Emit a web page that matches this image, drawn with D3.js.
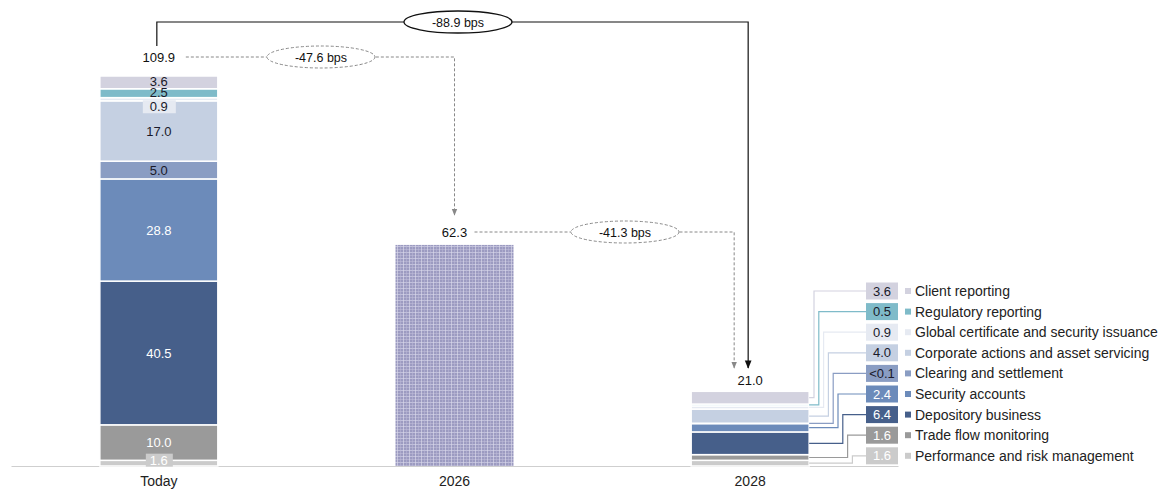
<!DOCTYPE html>
<html><head><meta charset="utf-8">
<script src="https://cdn.jsdelivr.net/npm/d3@7"></script>
<style>
body{margin:0;background:#fff;}
svg{display:block;font-family:"Liberation Sans",Arial,sans-serif;}
</style></head>
<body><svg id="c" width="1160" height="490"></svg>
<script>
// ---- data ----
const periods = ["Today", "2026", "2028"];
const segments = ["Performance and risk management","Trade flow monitoring","Depository business","Security accounts","Clearing and settlement","Corporate actions and asset servicing","Global certificate and security issuance","Regulatory reporting","Client reporting"];
const todayValues = [1.6, 10.0, 40.5, 28.8, 5.0, 17.0, 0.9, 2.5, 3.6];
const values2028 = [1.6, 1.6, 6.4, 2.4, 0.05, 4.0, 0.9, 0.5, 3.6];
const labels2028 = ["1.6","1.6","6.4","2.4","<0.1","4.0","0.9","0.5","3.6"];
const total2026 = 62.3;
const totals = [109.9, 62.3, 21.0];
const deltas = ["-88.9 bps", "-47.6 bps", "-41.3 bps"];

// ---- styles ----
const colors = ["#cbcbcb","#9a9a9a","#465f8a","#6c8bba","#8a9dc3","#c5d0e2","#e6eaf2","#7fbbc9","#d3d2df"];
const lightText = [true,true,true,true,false,false,false,false,false];

const svg = d3.select("#c");
const defs = svg.append("defs");
const pat = defs.append("pattern").attr("id","plaid").attr("patternUnits","userSpaceOnUse")
  .attr("width",6).attr("height",6);
pat.append("rect").attr("width",6).attr("height",6).attr("fill","#9c9bc1");
pat.append("rect").attr("x",0).attr("y",0).attr("width",6).attr("height",1).attr("fill","#d2d1e6").attr("opacity",0.7);
pat.append("rect").attr("x",0).attr("y",3).attr("width",6).attr("height",1).attr("fill","#c3c2dc").attr("opacity",0.5);
pat.append("rect").attr("x",1).attr("y",0).attr("width",1).attr("height",6).attr("fill","#dcdbec").attr("opacity",0.65);
pat.append("rect").attr("x",4).attr("y",0).attr("width",1).attr("height",6).attr("fill","#bdbcd9").attr("opacity",0.5);

function marker(id, col){
  defs.append("marker").attr("id",id).attr("viewBox","0 0 10 10").attr("refX",9).attr("refY",5)
    .attr("markerWidth",7).attr("markerHeight",7).attr("orient","auto-start-reverse")
    .append("path").attr("d","M0,1 L10,5 L0,9 Z").attr("fill",col);
}
marker("arB","#111");
marker("arG","#888");

const x = d3.scaleBand().domain(periods).range([11, 898]).padding(0);
const y = d3.scaleLinear().domain([0, 109.9]).range([466, 76]);
const barW = 118;
const cx = p => x(p) + x.bandwidth()/2;

function stackOf(vals){
  let acc = 0;
  return vals.map((v,i)=>{ const d={i, v, y0:acc, y1:acc+v}; acc+=v; return d; });
}
const todayStack = stackOf(todayValues);
const stack28 = stackOf(values2028);

// axis
const ax = svg.append("g").attr("transform","translate(0,466)")
  .call(d3.axisBottom(x).tickSize(0).tickPadding(10));
ax.select(".domain").attr("stroke","#cfcfcf").attr("stroke-width",1.2);
ax.selectAll("text").attr("font-size",14).attr("fill","#222").attr("font-family","Liberation Sans, Arial, sans-serif");

// Today bar
const gT = svg.append("g");
gT.selectAll("rect").data(todayStack).join("rect")
  .attr("x", cx("Today")-barW/2).attr("width", barW)
  .attr("y", d=>y(d.y1)).attr("height", d=>y(d.y0)-y(d.y1))
  .attr("fill", d=>colors[d.i]).attr("stroke","#fff").attr("stroke-width",1.5);

// labels in Today bar
const nudges = {0:-3, 6:7.5, 7:-0.5, 8:-1.5};
todayStack.forEach(d=>{
  const ym = (y(d.y0)+y(d.y1))/2 + (nudges[d.i]||0);
  const t = d.v.toFixed(1);
  if (d.i===0 || d.i===6){
    svg.append("rect").attr("x",cx("Today")-(d.i===0?13:16)).attr("y",ym-6.5)
      .attr("width",d.i===0?27:33).attr("height",13).attr("fill",colors[d.i]);
  }
  svg.append("text").attr("x",cx("Today")).attr("y",ym).attr("dy","0.36em")
    .attr("text-anchor","middle").attr("font-size",13)
    .attr("fill", lightText[d.i] ? "#fff" : "#1a1a2a").text(t);
});

// 2026 bar
svg.append("rect").attr("x",cx("2026")-barW/2).attr("width",barW)
  .attr("y",y(total2026)).attr("height",y(0)-y(total2026)).attr("fill","url(#plaid)");

// 2028 bar
const g28 = svg.append("g");
g28.selectAll("rect").data(stack28).join("rect")
  .attr("x", cx("2028")-barW/2).attr("width", barW)
  .attr("y", d=>y(d.y1)).attr("height", d=>Math.max(0.5, y(d.y0)-y(d.y1)))
  .attr("fill", d=>colors[d.i]).attr("stroke","#fff").attr("stroke-width",1.5);

// legend with connectors
const legX = 866, boxW = 32, boxH = 17, rowTop = 291, rowStep = 20.6;
const order = d3.range(segments.length).reverse(); // top to bottom
order.forEach((si, r)=>{
  const ry = rowTop + r*rowStep;
  const d = stack28[si];
  const sy = (y(d.y0)+y(d.y1))/2;
  const ex = 814 + r*4.8;
  const bx = cx("2028")+barW/2;
  svg.append("path").attr("d",`M${bx},${sy} H${ex} V${ry} H${legX}`)
    .attr("fill","none").attr("stroke", colors[si]).attr("stroke-width",1.2);
  svg.append("rect").attr("x",legX).attr("y",ry-boxH/2).attr("width",boxW).attr("height",boxH)
    .attr("fill",colors[si]);
  svg.append("text").attr("x",legX+boxW/2).attr("y",ry).attr("dy","0.36em").attr("text-anchor","middle")
    .attr("font-size",13).attr("fill", lightText[si] ? "#fff" : "#1a1a2a").text(labels2028[si]);
  svg.append("rect").attr("x",905).attr("y",ry-3).attr("width",6).attr("height",6).attr("fill",colors[si]);
  svg.append("text").attr("x",915).attr("y",ry).attr("dy","0.36em").attr("font-size",14)
    .attr("fill","#222").text(segments[si]);
});

// totals
const totY = [57, 232, 380];
periods.forEach((p,i)=>{
  svg.append("text").attr("x",cx(p)).attr("y",totY[i]).attr("dy","0.36em").attr("text-anchor","middle")
    .attr("font-size",13).attr("fill","#111").text(totals[i].toFixed(1));
});

// solid -88.9 connector
const xs = cx("Today")-2, xe = cx("2028")-2;
svg.append("path").attr("d",`M${xs},46 V22 H${xe} V368`).attr("fill","none")
  .attr("stroke","#111").attr("stroke-width",1.2).attr("marker-end","url(#arB)");
// dashed -47.6
svg.append("path").attr("d",`M${cx("Today")+27},57 H${cx("2026")} V215`).attr("fill","none")
  .attr("stroke","#888").attr("stroke-width",1).attr("stroke-dasharray","3,2").attr("marker-end","url(#arG)");
// dashed -41.3
svg.append("path").attr("d",`M${cx("2026")+20},232 H${cx("2028")-16} V368`).attr("fill","none")
  .attr("stroke","#888").attr("stroke-width",1).attr("stroke-dasharray","3,2").attr("marker-end","url(#arG)");

function bubble(cxv, cyv, txt, dashed){
  svg.append("ellipse").attr("cx",cxv).attr("cy",cyv).attr("rx",54).attr("ry",11)
    .attr("fill","#fff").attr("stroke", dashed ? "#888" : "#111").attr("stroke-width", dashed?1:1.3)
    .attr("stroke-dasharray", dashed ? "3,2" : null);
  svg.append("text").attr("x",cxv).attr("y",cyv).attr("dy","0.36em").attr("text-anchor","middle")
    .attr("font-size",12.5).attr("fill","#111").text(txt);
}
bubble(458, 22, deltas[0], false);
bubble(321, 57, deltas[1], true);
bubble(625, 232, deltas[2], true);
</script></body></html>
